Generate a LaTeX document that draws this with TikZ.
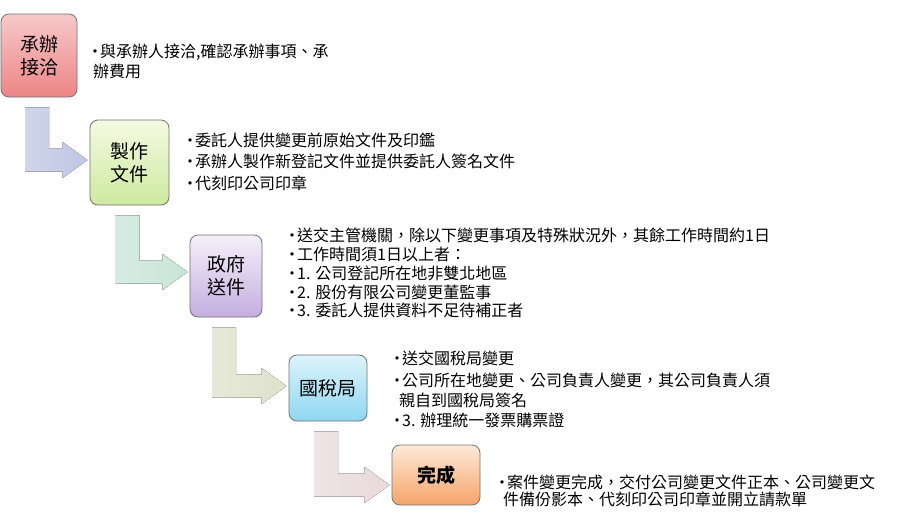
\documentclass[tikz,border=0pt]{standalone}
\usepackage{fontspec}
\usetikzlibrary{calc}
\newfontfamily\cjk{Noto Sans CJK TC}
\definecolor{redA}{HTML}{F7C9C9}\definecolor{redB}{HTML}{EC8585}
\definecolor{grnA}{HTML}{F4FAE2}\definecolor{grnB}{HTML}{CDE9A0}
\definecolor{purA}{HTML}{F5F0FA}\definecolor{purB}{HTML}{C4AEDF}
\definecolor{bluA}{HTML}{DDF4FB}\definecolor{bluB}{HTML}{8ED7F1}
\definecolor{orgA}{HTML}{FDE9D8}\definecolor{orgB}{HTML}{F6A468}
\definecolor{arrA}{HTML}{C0C7E4}\definecolor{arrB}{HTML}{C9E5D8}
\definecolor{arrC}{HTML}{DEE2CC}\definecolor{arrD}{HTML}{EADADA}
\newcommand\itm{\makebox[10pt][l]{\hspace{-3pt}•}}
\newcommand\bendarrow[4]{% from, to, colour, tip drop
  \fill[left color=#3!75, right color=#3]
    let \p1=($(#1.south)+(-2,10)$), \p2=($(#2.west)+(-2,#4)$) in
    (\x1-12pt,\y1) -- (\x1+12pt,\y1) -- (\x1+12pt,\y2+11.5pt) -- (\x2-25pt,\y2+11.5pt)
    -- (\x2-25pt,\y2+18pt) -- (\x2,\y2) -- (\x2-25pt,\y2-18pt) -- (\x2-25pt,\y2-11.5pt)
    -- (\x1-12pt,\y2-11.5pt) -- cycle;}
\tikzset{
  stepbox/.style={draw=black!55, line width=0.8pt, rounded corners=8pt, align=center,
    font=\cjk\fontsize{19}{23}\selectfont, inner sep=0pt},
  item/.style={anchor=west, inner sep=0pt, font=\cjk\fontsize{16}{19}\selectfont}
}
\begin{document}
\begin{tikzpicture}[x=1pt,y=-1pt]
      \fill[white] (0,0) rectangle (898,531);
      \useasboundingbox (0,0) rectangle (898,531);
      % steps
      \draw (39,55.5) node[stepbox, minimum width=76, minimum height=83, top color=redA, bottom color=redB] (s1) {承辦\\接洽};
      \draw (129.5,162.5) node[stepbox, minimum width=79, minimum height=85, top color=grnA, bottom color=grnB] (s2) {製作\\文件};
      \draw (226,276) node[stepbox, minimum width=72, minimum height=82, top color=purA, bottom color=purB] (s3) {政府\\送件};
      \draw (328,388) node[stepbox, minimum width=78, minimum height=66, top color=bluA, bottom color=bluB] (s4) {國稅局};
      \draw (436,475) node[stepbox, minimum width=88, minimum height=60, top color=orgA, bottom color=orgB, font=\cjk\bfseries\fontsize{19}{23}\selectfont] (s5) {完成};
      % bent arrows
      \bendarrow{s1}{s2}{arrA}{-2.5}
      \bendarrow{s2}{s3}{arrB}{-4}
      \bendarrow{s3}{s4}{arrC}{-2}
      \bendarrow{s4}{s5}{arrD}{10}
      % notes
      \draw (90,52) node[item] (t1a) {\itm 與承辦人接洽,確認承辦事項、承};
      \draw (93,71) node[item] (t1b) {辦費用};
      \draw (185,140) node[item] (t2a) {\itm 委託人提供變更前原始文件及印鑑};
      \draw (185,161) node[item] (t2b) {\itm 承辦人製作新登記文件並提供委託人簽名文件};
      \draw (185,183) node[item] (t2c) {\itm 代刻印公司印章};
      \draw (287,235) node[item] (t3a) {\itm 送交主管機關，除以下變更事項及特殊狀況外，其餘工作時間約1日};
      \draw (287,254) node[item] (t3b) {\itm 工作時間須1日以上者：};
      \draw (287,273) node[item] (t3c) {\itm 1. 公司登記所在地非雙北地區};
      \draw (287,292) node[item] (t3d) {\itm 2. 股份有限公司變更董監事};
      \draw (287,310) node[item] (t3e) {\itm 3. 委託人提供資料不足待補正者};
      \draw (392,358) node[item] (t4a) {\itm 送交國稅局變更};
      \draw (392,380) node[item] (t4b) {\itm 公司所在地變更、公司負責人變更，其公司負責人須};
      \draw (399,400) node[item] (t4c) {親自到國稅局簽名};
      \draw (392,420) node[item] (t4d) {\itm 3. 辦理統一發票購票證};
      \draw (497,482) node[item] (t5a) {\itm 案件變更完成，交付公司變更文件正本、公司變更文};
      \draw (503,499) node[item] (t5b) {件備份影本、代刻印公司印章並開立請款單};
\end{tikzpicture}
\end{document}
